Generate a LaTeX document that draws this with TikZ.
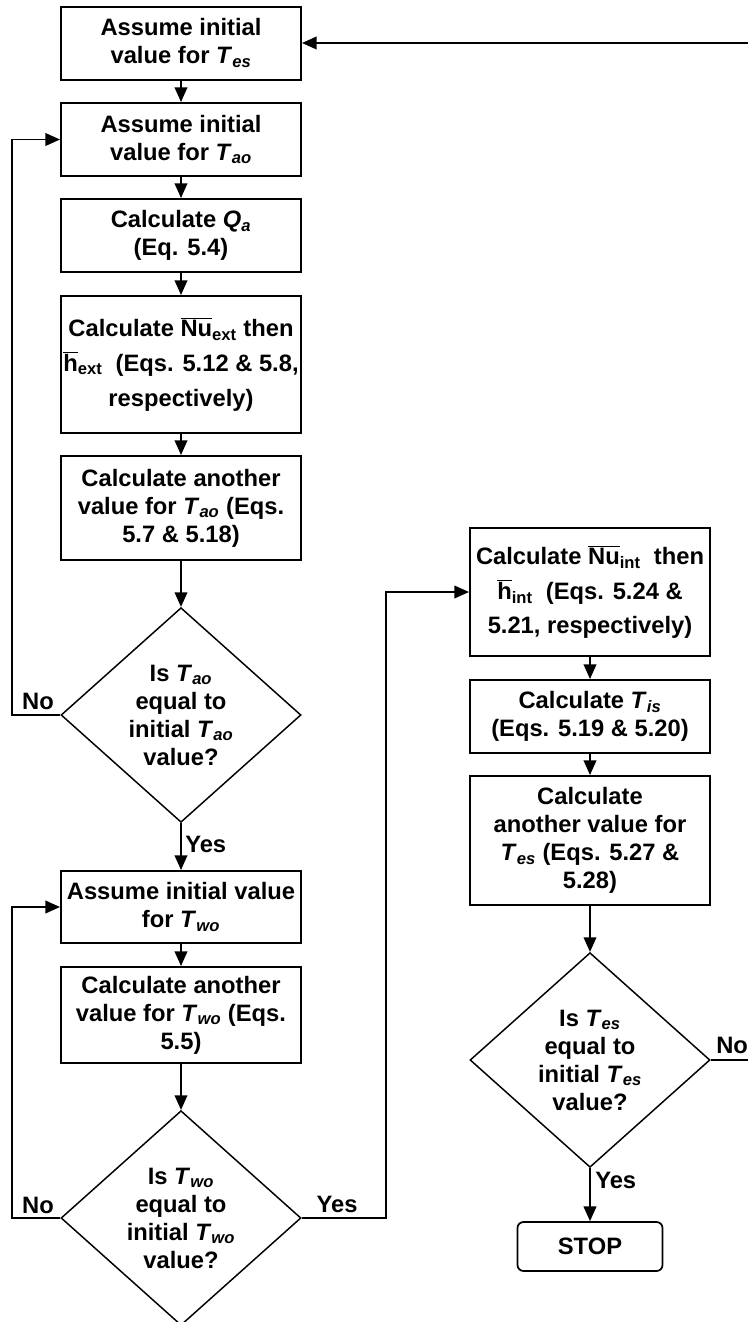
\documentclass[tikz,border=0pt]{standalone}
\usepackage{fontspec}
\setmainfont{Liberation Sans}
\usetikzlibrary{arrows.meta,shapes.geometric}
% overlined symbol and italic symbol with subscript
\newcommand\ovsym[1]{$\overline{\mbox{#1}}$}
\newcommand\tsym[2]{\textit{#1}\textsubscript{\textit{#2}}}

\begin{document}
\begin{tikzpicture}[x=0.75pt,y=-0.75pt,
  every node/.style={font=\fontsize{17.8}{21}\selectfont\bfseries, align=center, inner sep=0pt},
  box/.style={draw, line width=1.5pt, rectangle, minimum width=180pt},
  decision/.style={draw, line width=1.1pt, diamond, minimum width=180pt, minimum height=161pt},
  endbox/.style={draw, line width=1.3pt, rectangle, rounded corners=4.5pt, minimum width=108.75pt, minimum height=36.75pt},
  conn/.style={line width=1.35pt, -{Triangle[length=11pt,width=9.5pt]}},
  plain/.style={line width=1.35pt},
  tag/.style={font=\fontsize{17.8}{21}\selectfont\bfseries}
]
\useasboundingbox (0,0) rectangle (748,1322);

% ---- left column ----
\node[box, minimum height=54.75pt] (b1) at (181,43) {Assume initial\\value for \tsym{T}{es}};
\node[box, minimum height=54.75pt] (b2) at (181,139.5) {Assume initial\\value for \tsym{T}{ao}};
\node[box, minimum height=54.75pt] (b3) at (181,235.5) {Calculate \tsym{Q}{a}\\(Eq. 5.4)};
\node[box, minimum height=102.75pt] (b4) at (181,364.5)
  {Calculate \ovsym{Nu}\textsubscript{ext} then\\[5pt]\ovsym{h}\textsubscript{ext} \ (Eqs. 5.12 \& 5.8,\\[5pt]respectively)};
\node[box, minimum height=78pt] (b5) at (181,508)
  {Calculate another\\value for \tsym{T}{ao} (Eqs.\\5.7 \& 5.18)};
\node[decision, label={center:Is \tsym{T}{ao}\\equal to\\initial \tsym{T}{ao}\\value?}] (d1) at (181,715) {};
\node[box, minimum height=54pt] (b6) at (181,907) {Assume initial value\\for \tsym{T}{wo}};
\node[box, minimum height=72pt] (b10) at (181,1015)
  {Calculate another\\value for \tsym{T}{wo} (Eqs.\\5.5)};
\node[decision, label={center:Is \tsym{T}{wo}\\equal to\\initial \tsym{T}{wo}\\value?}] (d3) at (181,1218) {};

% ---- right column ----
\node[box, minimum height=96pt] (b7) at (590,592)
  {Calculate \ovsym{Nu}\textsubscript{int} \ then\\[5pt]\ovsym{h}\textsubscript{int} \ (Eqs. 5.24 \&\\[5pt]5.21, respectively)};
\node[box, minimum height=54.75pt] (b8) at (590,716.5) {Calculate \tsym{T}{is}\\(Eqs. 5.19 \& 5.20)};
\node[box, minimum height=96.75pt] (b9) at (590,840.5)
  {Calculate\\another value for\\\tsym{T}{es} (Eqs. 5.27 \&\\5.28)};
\node[decision, label={center:Is \tsym{T}{es}\\equal to\\initial \tsym{T}{es}\\value?}] (d2) at (590,1060) {};
\node[endbox] (stop) at (590,1246.5) {STOP};

% ---- helper coordinates ----
\coordinate (lx) at (12,0);
\coordinate (rx) at (386,0);
\coordinate (topR) at (749,43);
\coordinate (noR) at (749,1060);

% ---- straight flow ----
\draw[conn] (b1) -- (b2);
\draw[conn] (b2) -- (b3);
\draw[conn] (b3) -- (b4);
\draw[conn] (b4) -- (b5);
\draw[conn] (b5) -- (d1);
\draw[conn] (d1) -- (b6);
\draw[conn] (b6) -- (b10);
\draw[conn] (b10) -- (d3);
\draw[conn] (b7) -- (b8);
\draw[conn] (b8) -- (b9);
\draw[conn] (b9) -- (d2);
\draw[conn] (d2) -- (stop);

% ---- loops ----
\draw[conn] (d1.west) -- (d1.west -| lx) |- (b2.west);
\draw[conn] (d3.west) -- (d3.west -| lx) |- (b6.west);
\draw[conn] (d3.east) -- (d3.east -| rx) |- (b7.west);
\draw[plain] (d2.east) -- (noR);
\draw[conn] (topR) -- (b1.east);

% ---- branch labels ----
\node[tag] (no1) at (38,701) {No};
\node[tag, anchor=west] (yes1) at (185,844) {Yes};
\node[tag] (no3) at (38,1205) {No};
\node[tag] (yes3) at (337,1204) {Yes};
\node[tag, anchor=west] (no2) at (716,1045) {No};
\node[tag, anchor=west] (yes2) at (595,1180) {Yes};
\end{tikzpicture}
\end{document}
